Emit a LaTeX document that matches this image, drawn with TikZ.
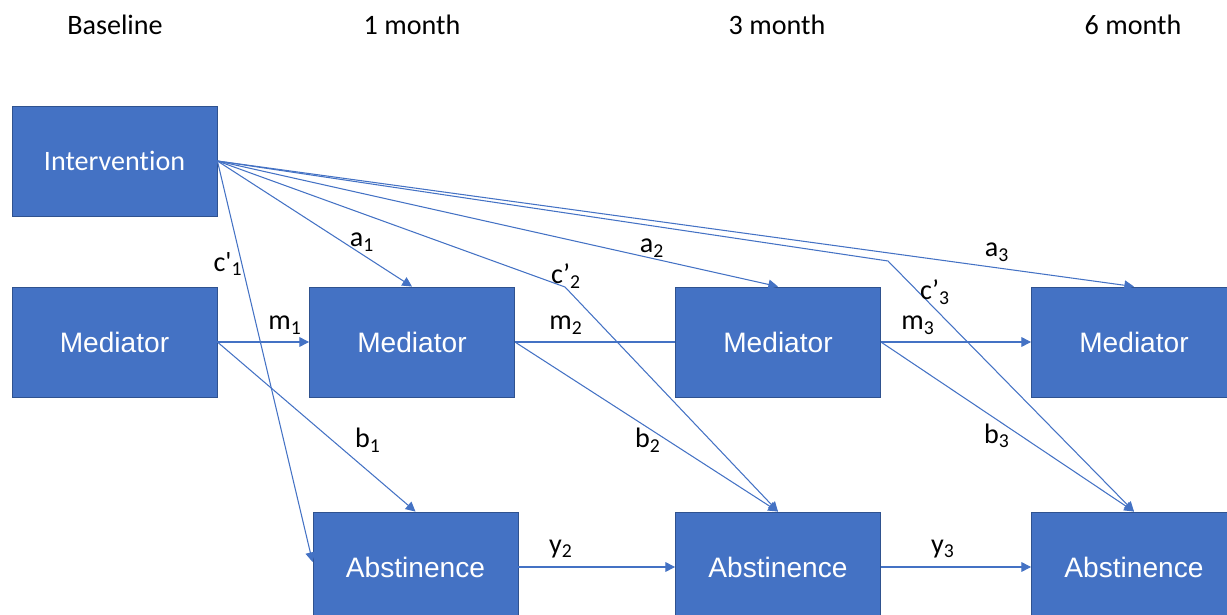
\documentclass[tikz,border=0pt]{standalone}
\usepackage{fontspec}
\setmainfont{Carlito}[Ligatures={TeX,NoCommon}]
\newfontfamily\arialfont{Liberation Sans}
\usepackage{tikz}
\usetikzlibrary{arrows.meta,positioning}
\definecolor{boxblue}{HTML}{4472C4}
\definecolor{boxedge}{HTML}{2F528F}

\begin{document}
\begin{tikzpicture}[x=0.02cm,y=-0.02cm,
	box/.style={draw=boxedge, line width=0.5pt, fill=boxblue, minimum width=4.1cm, minimum height=2.2cm, inner sep=0pt, text=white, font=\arialfont\fontsize{16}{19}\selectfont},
	link/.style={draw=boxblue, line width=0.6pt},
	linkarr/.style={link, -{Triangle[length=5.5pt,width=5.5pt]}},
	lbl/.style={inner sep=0pt, font=\fontsize{16}{19}\selectfont},
	head/.style={inner sep=0pt, font=\fontsize{16}{19}\selectfont}]
				\clip (0,0) rectangle (1227,615);
				
				\node [head] (hbase) at (115,25) {Baseline};
				\node [head] (hone) at (412,25) {1 month};
				\node [head] (hthree) at (777,25) {3 month};
				\node [head] (hsix) at (1133,25) {6 month};
				
				\node [box, font=\fontsize{16}{19}\selectfont] (interv) at (114.5,161) {Intervention};
				\node [box] (med0) at (114.5,342) {Mediator};
				\node [box] (med1) at (412,342) {Mediator};
				\node [box] (med3) at (778,342) {Mediator};
				\node [box] (med6) at (1134,342) {Mediator};
				\node [box] (abs1) at (415.5,567) {Abstinence};
				\node [box] (abs3) at (778,567) {Abstinence};
				\node [box] (abs6) at (1134,567) {Abstinence};
				
				\coordinate (bendtwo) at (565,287);
				\coordinate (bendthree) at (888,261);
				
				% % % % % % % % % % % % % % % % % % % % % % % % % %
				
				\draw [linkarr] (interv.east) -- (med1.north);
				\draw [linkarr] (interv.east) -- (med3.north);
				\draw [linkarr] (interv.east) -- (med6.north);
				\draw [linkarr] (interv.east) -- ([yshift=0.1cm]abs1.west);
				\draw [linkarr] (interv.east) -- (bendtwo) -- (abs3.north);
				\draw [linkarr] (interv.east) -- (bendthree) -- (abs6.north);
				
				\draw [linkarr] (med0.east) -- (med1.west);
				\draw [link] (med1.east) -- (med3.west);
				\draw [linkarr] (med3.east) -- (med6.west);
				
				\draw [linkarr] (med0.east) -- (abs1.north);
				\draw [linkarr] (med1.east) -- (abs3.north);
				\draw [linkarr] (med3.east) -- (abs6.north);
				
				\draw [linkarr] (abs1.east) -- (abs3.west);
				\draw [linkarr] (abs3.east) -- (abs6.west);
				
				% % % % % % % % % % % % % % % % % % % % % % % % % %
				
				\node [lbl] (la1) at (362,242) {a\textsubscript{1}};
				\node [lbl] (la2) at (652,248) {a\textsubscript{2}};
				\node [lbl] (la3) at (997,252) {a\textsubscript{3}};
				\node [lbl] (lc1) at (228,264) {c\textquotesingle\textsubscript{1}};
				\node [lbl] (lc2) at (566,276) {c’\textsubscript{2}};
				\node [lbl] (lc3) at (935,292) {c’\textsubscript{3}};
				\node [lbl] (lm1) at (285,325) {m\textsubscript{1}};
				\node [lbl] (lm2) at (566,325) {m\textsubscript{2}};
				\node [lbl] (lm3) at (918,325) {m\textsubscript{3}};
				\node [lbl] (lb1) at (368,440) {b\textsubscript{1}};
				\node [lbl] (lb2) at (648,440) {b\textsubscript{2}};
				\node [lbl] (lb3) at (997,436) {b\textsubscript{3}};
				\node [lbl] (ly2) at (561,549) {y\textsubscript{2}};
				\node [lbl] (ly3) at (943,549) {y\textsubscript{3}};
\end{tikzpicture}
\end{document}
